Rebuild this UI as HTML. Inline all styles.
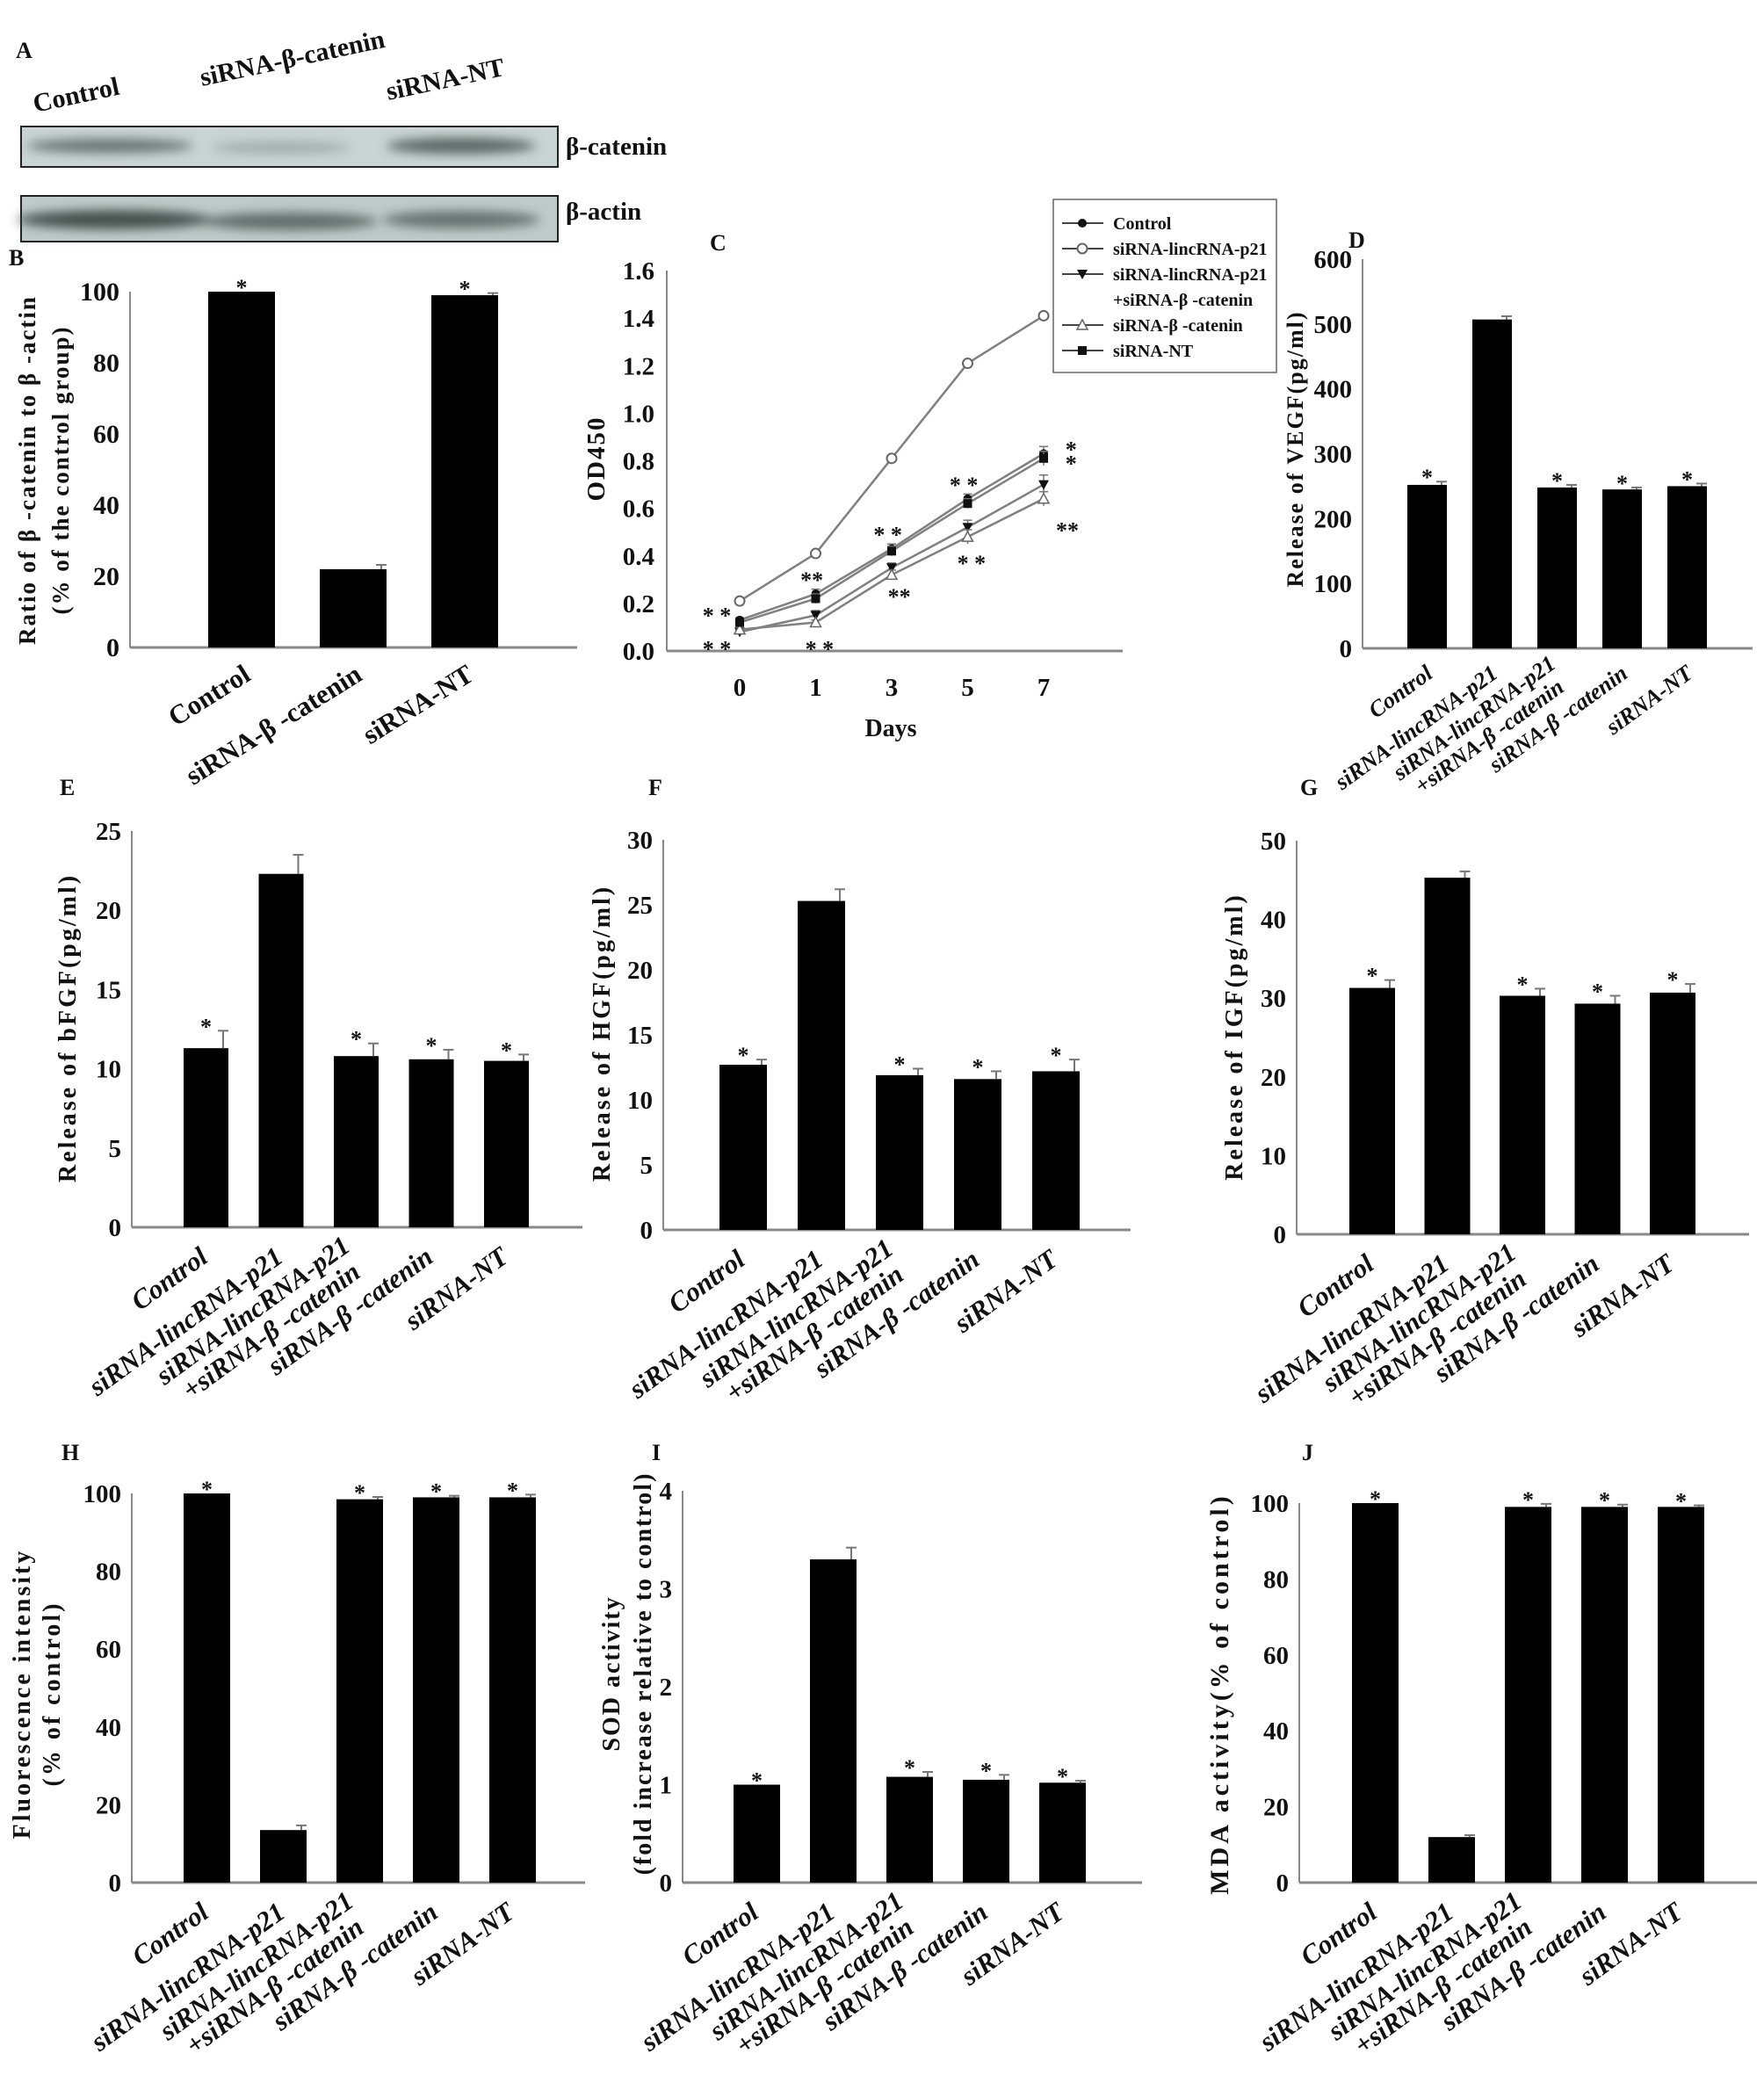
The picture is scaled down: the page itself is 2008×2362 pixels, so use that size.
<!DOCTYPE html>
<html><head><meta charset="utf-8"><style>
html,body{margin:0;padding:0;background:#fff}
svg{display:block}
text{font-family:"Liberation Serif",serif;font-weight:bold;fill:#111}
</style></head><body>
<svg id="fig" width="2008" height="2362" viewBox="0 0 2008 2362" xmlns="http://www.w3.org/2000/svg">
<defs><filter id="blur" x="-20%" y="-50%" width="140%" height="200%"><feGaussianBlur stdDeviation="6"/></filter></defs>
<g>
<text x="18" y="66" font-size="26">A</text>
<text x="40" y="128" font-size="30" transform="rotate(-12 40 128)">Control</text>
<text x="230" y="98" font-size="30" transform="rotate(-12 230 98)">siRNA-β-catenin</text>
<text x="442" y="114" font-size="30" transform="rotate(-12 442 114)">siRNA-NT</text>
<rect x="24" y="144" width="611" height="46" fill="#c9d4d4" stroke="#222" stroke-width="2"/>
<g filter="url(#blur)" fill="#46524f">
<ellipse cx="125" cy="166" rx="95" ry="8" opacity="0.75"/>
<ellipse cx="320" cy="168" rx="80" ry="6" opacity="0.35"/>
<ellipse cx="525" cy="166" rx="85" ry="9" opacity="0.85"/>
</g>
<rect x="24" y="223" width="611" height="52" fill="#bfcbcb" stroke="#222" stroke-width="2"/>
<g filter="url(#blur)" fill="#37433f">
<ellipse cx="130" cy="250" rx="110" ry="11" opacity="0.9"/>
<ellipse cx="330" cy="252" rx="100" ry="10" opacity="0.7"/>
<ellipse cx="525" cy="250" rx="90" ry="10" opacity="0.65"/>
</g>
<text x="644" y="176" font-size="29">β-catenin</text>
<text x="644" y="250" font-size="29">β-actin</text>
</g>
<g id="charts"></g>
</svg>
<script>
// ---------- DATA ----------
const bCats=[['Control'],['siRNA-β -catenin'],['siRNA-NT']];
const bVals=[100,22,99];
const bErr=[0,1.2,0.6];
const bStar=[1,0,1];
const bTicks=[0,20,40,60,80,100];

const longCats=[['Control'],['siRNA-lincRNA-p21'],['siRNA-lincRNA-p21','+siRNA-β -catenin'],['siRNA-β -catenin'],['siRNA-NT']];
const starPattern=[1,0,1,1,1];

const dVals=[252,507,248,245,250];
const dErr=[5,5,4,3,4];
const dTicks=[0,100,200,300,400,500,600];

const eVals=[11.3,22.3,10.8,10.6,10.5];
const eErr=[1.1,1.2,0.8,0.6,0.4];
const eTicks=[0,5,10,15,20,25];

const fVals=[12.7,25.3,11.9,11.6,12.2];
const fErr=[0.4,0.9,0.5,0.6,0.9];
const fTicks=[0,5,10,15,20,25,30];

const gVals=[31.3,45.3,30.3,29.3,30.7];
const gErr=[1.0,0.8,0.9,1.0,1.1];
const gTicks=[0,10,20,30,40,50];

const hVals=[100,13.5,98.5,99,99];
const hErr=[0,1.2,0.6,0.4,0.7];
const hTicks=[0,20,40,60,80,100];

const iVals=[1.0,3.3,1.08,1.05,1.02];
const iErr=[0,0.12,0.05,0.05,0.02];
const iTicks=[0,1,2,3,4];

const jVals=[100,12,99,99,99];
const jErr=[0,0.5,0.8,0.6,0.4];
const jTicks=[0,20,40,60,80,100];

// Panel C line chart
const cDays=['0','1','3','5','7'];
const cTicks=[0,0.2,0.4,0.6,0.8,1.0,1.2,1.4,1.6];
const cSeriesNames=['Control','siRNA-lincRNA-p21','siRNA-lincRNA-p21 +siRNA-β -catenin','siRNA-β -catenin','siRNA-NT'];
const cControl=[0.13,0.24,0.43,0.64,0.83];
const cLinc=[0.21,0.41,0.81,1.21,1.41];
const cCombo=[0.08,0.15,0.35,0.52,0.70];
const cBeta=[0.09,0.12,0.32,0.48,0.64];
const cNT=[0.12,0.22,0.42,0.62,0.81];
const cErrs=[[0.01,0.02,0.02,0.02,0.03],[0.01,0.01,0.01,0.01,0.01],[0.01,0.02,0.02,0.03,0.04],[0.01,0.01,0.02,0.03,0.03],[0.01,0.02,0.02,0.02,0.03]];

// ---------- DRAW ----------
const NS='http://www.w3.org/2000/svg';
const root=document.getElementById('charts');
function el(tag,attrs,parent){const e=document.createElementNS(NS,tag);for(const k in attrs)e.setAttribute(k,attrs[k]);(parent||root).appendChild(e);return e;}
function txt(str,attrs,parent){const t=el('text',attrs,parent);t.textContent=str;return t;}

function barChart(p){
  const g=el('g',{});
  
  
  const max=p.ticks[p.ticks.length-1];
  const y=v=>p.y0-(v/max)*(p.y0-p.yTop);
  const lx=txt(p.letter,{x:p.lx,y:p.ly,'font-size':26},g);
  
  
  const ya=el('line',{x1:p.ax,y1:p.y0,x2:p.ax,y2:p.yTop,stroke:'#888','stroke-width':2},g);
  
  
  const xa=el('line',{x1:p.ax,y1:p.y0,x2:p.xEnd,y2:p.y0,stroke:'#888','stroke-width':3},g);
  
  
  p.ticks.forEach(t=>{
    const tl=txt(String(t),{x:p.ax-12,y:y(t)+10,'font-size':p.tickSize||29,'text-anchor':'end'},g);
    
    
  });
  const tg=el('g',{transform:`translate(${p.tx},${p.ty}) rotate(-90)`},g);
  p.title.forEach((line,k)=>{
    const tt=txt(line,{x:0,y:k*p.titleGap,'font-size':p.titleSize||28,'text-anchor':'middle','letter-spacing':p.titleLs||3},tg);
    
    
  });
  p.vals.forEach((v,i)=>{
    const x0=p.bx+i*p.step, cx=x0+p.bw/2;
    const top=y(v);
    const r=el('rect',{x:x0,y:top,width:p.bw,height:p.y0-top,fill:'#000'},g);
    
    
    const et=y(v+p.err[i]);
    if(p.err[i]>0){
      el('line',{x1:cx+p.bw/2-6,y1:top,x2:cx+p.bw/2-6,y2:et,stroke:'#777','stroke-width':2},g);
      el('line',{x1:cx+p.bw/2-12,y1:et,x2:cx+p.bw/2,y2:et,stroke:'#777','stroke-width':2},g);
    }
    if(p.stars[i]){
      const s=txt('*',{x:cx,y:et+8-p.starOff,'font-size':26,'text-anchor':'middle'},g);
      
      
    }
    const ex=cx+(p.labOffX||4), ey=p.y0+(p.labOffY||38);
    const lg=el('g',{transform:`translate(${ex},${ey}) rotate(${p.rot})`},g);
    const n=p.cats[i].length, gap=p.lineGap||31;
    p.cats[i].forEach((line,k)=>{
      const cl=txt(line,{x:k?-8:0,y:k*gap-(n-1)*gap/2,'font-size':p.catSize||31,'text-anchor':'end','font-style':p.italic?'italic':'normal'},lg);
      
      
    });
  });
}

barChart({name:'panel-b-ratio-chart',letter:'B',lx:10,ly:302,ax:148,y0:737,yTop:332,xEnd:657,ticks:bTicks,vals:bVals,err:bErr,stars:bStar,cats:bCats,
  bx:237,step:127,bw:76,tx:40,ty:535,title:['Ratio of β -catenin to β -actin','(% of the control group)'],titleGap:38,titleSize:27,titleLs:2,rot:-32,italic:false,catSize:31,starOff:4,tickSize:30,labOffX:12,labOffY:36});
barChart({name:'panel-d-vegf-chart',letter:'D',lx:1535,ly:282,ax:1551,y0:738,yTop:295,xEnd:1995,ticks:dTicks,vals:dVals,err:dErr,stars:starPattern,cats:longCats,
  bx:1602,step:74,bw:45,tx:1483,ty:511,title:['Release of VEGF(pg/ml)'],titleGap:0,titleSize:26,titleLs:2,rot:-36,italic:true,catSize:26,lineGap:27,labOffX:8,labOffY:32,starOff:4});
barChart({name:'panel-e-bfgf-chart',letter:'E',lx:68,ly:905,ax:150,y0:1397,yTop:946,xEnd:663,ticks:eTicks,vals:eVals,err:eErr,stars:starPattern,cats:longCats,
  bx:209,step:85.5,bw:51,tx:86,ty:1170,title:['Release of bFGF(pg/ml)'],titleGap:0,rot:-36,italic:true,starOff:4});
barChart({name:'panel-f-hgf-chart',letter:'F',lx:738,ly:905,ax:755,y0:1400,yTop:956,xEnd:1287,ticks:fTicks,vals:fVals,err:fErr,stars:starPattern,cats:longCats,
  bx:819,step:89,bw:54,tx:694,ty:1176,title:['Release of HGF(pg/ml)'],titleGap:0,rot:-36,italic:true,starOff:4});
barChart({name:'panel-g-igf-chart',letter:'G',lx:1480,ly:905,ax:1476,y0:1405,yTop:957,xEnd:1991,ticks:gTicks,vals:gVals,err:gErr,stars:starPattern,cats:longCats,
  bx:1536,step:85.5,bw:52,tx:1414,ty:1180,title:['Release of IGF(pg/ml)'],titleGap:0,rot:-36,italic:true,starOff:4});
barChart({name:'panel-h-fluorescence-chart',letter:'H',lx:70,ly:1662,ax:150,y0:2143,yTop:1700,xEnd:666,ticks:hTicks,vals:hVals,err:hErr,stars:starPattern,cats:longCats,
  bx:209,step:87,bw:53,tx:34,ty:1928,title:['Fluorescence intensity','(% of control)'],titleGap:34,rot:-36,italic:true,starOff:4});
barChart({name:'panel-i-sod-chart',letter:'I',lx:742,ly:1662,ax:777,y0:2143,yTop:1697,xEnd:1300,ticks:iTicks,vals:iVals,err:iErr,stars:starPattern,cats:longCats,
  bx:835,step:87,bw:53,tx:705,ty:1905,title:['SOD activity','(fold increase relative to control)'],titleGap:36,titleLs:2,rot:-36,italic:true,starOff:4});
barChart({name:'panel-j-mda-chart',letter:'J',lx:1482,ly:1662,ax:1479,y0:2143,yTop:1711,xEnd:2000,ticks:jTicks,vals:jVals,err:jErr,stars:starPattern,cats:longCats,
  bx:1539,step:87,bw:53,tx:1398,ty:1928,title:['MDA activity(% of control)'],titleGap:0,titleSize:30,titleLs:4,rot:-36,italic:true,starOff:4});

// ---------- Panel C ----------
(function(){
  const g=el('g',{});
  
  
  const ax=759,y0=741,yTop=308,x0=842,step=86.5,xEnd=1278;
  const y=v=>y0-(v/1.6)*(y0-yTop);
  const x=i=>x0+i*step;
  const L=txt('C',{x:808,y:285,'font-size':26},g);
  
  
  const ya=el('line',{x1:ax,y1:y0,x2:ax,y2:yTop,stroke:'#888','stroke-width':2},g);
  
  
  const xa=el('line',{x1:ax,y1:y0,x2:xEnd,y2:y0,stroke:'#888','stroke-width':3},g);
  
  
  cTicks.forEach(t=>{
    const tl=txt(t.toFixed(1),{x:ax-14,y:y(t)+10,'font-size':29,'text-anchor':'end'},g);
    
    
  });
  cDays.forEach((d,i)=>{
    const tl=txt(d,{x:x(i),y:792,'font-size':29,'text-anchor':'middle'},g);
    
    
  });
  const xt=txt('Days',{x:1014,y:838,'font-size':28,'text-anchor':'middle'},g);
  
  
  const yt=txt('OD450',{x:0,y:0,'font-size':29,'text-anchor':'middle','letter-spacing':2,transform:'translate(688,522) rotate(-90)'},g);
  
  
  const series=[cControl,cLinc,cCombo,cBeta,cNT];
  const markers=['fcircle','ocircle','fdown','otri','fsquare'];
  function marker(type,cx,cy,parent){
    if(type==='fcircle')return el('circle',{cx,cy,r:5,fill:'#111'},parent);
    if(type==='ocircle')return el('circle',{cx,cy,r:5.5,fill:'#fff',stroke:'#666','stroke-width':2},parent);
    if(type==='fdown')return el('polygon',{points:`${cx-6},${cy-5} ${cx+6},${cy-5} ${cx},${cy+6}`,fill:'#111'},parent);
    if(type==='otri')return el('polygon',{points:`${cx-6},${cy+5} ${cx+6},${cy+5} ${cx},${cy-6}`,fill:'#fff',stroke:'#666','stroke-width':1.5},parent);
    return el('rect',{x:cx-5,y:cy-5,width:10,height:10,fill:'#111'},parent);
  }
  series.forEach((s,k)=>{
    const sg=el('g',{},g);
    
    
    const pts=s.map((v,i)=>x(i)+','+y(v)).join(' ');
    el('polyline',{points:pts,fill:'none',stroke:'#808080','stroke-width':2.5},sg);
    s.forEach((v,i)=>{
      const e=cErrs[k][i];
      el('line',{x1:x(i),y1:y(v+e),x2:x(i),y2:y(v-e),stroke:'#777','stroke-width':1.5},sg);
      el('line',{x1:x(i)-5,y1:y(v+e),x2:x(i)+5,y2:y(v+e),stroke:'#777','stroke-width':1.5},sg);
      const m=marker(markers[k],x(i),y(v),sg);
      
      
    });
  });
  const starSpots=[[-0.3,0.16,'* *'],[-0.3,0.02,'* *'],[-0.05,0.31,'**'],[0.05,0.02,'* *'],[-0.05,0.50,'* *'],[0.1,0.24,'**'],[-0.05,0.71,'* *'],[0.05,0.38,'* *'],[0.2,0.86,'*'],[0.2,0.80,'*'],[0.15,0.52,'**']];
  const starDay=[0,0,1,1,2,2,3,3,4,4,4];
  starSpots.forEach((s,n)=>{
    const st=txt(s[2],{x:x(starDay[n])+s[0]*86.5+(starDay[n]===4?14:0),y:y(s[1])+12,'font-size':26,'text-anchor':'middle'},g);
    
    
  });
  const lg=el('g',{},g);
  
  
  el('rect',{x:1199,y:227,width:254,height:197,fill:'#fff',stroke:'#666','stroke-width':1.5},lg);
  const rows=[254,283,312,370,399];
  const labels=[['Control'],['siRNA-lincRNA-p21'],['siRNA-lincRNA-p21','+siRNA-β -catenin'],['siRNA-β -catenin'],['siRNA-NT']];
  labels.forEach((lab,k)=>{
    const ry=rows[k];
    el('line',{x1:1209,y1:ry,x2:1256,y2:ry,stroke:'#444','stroke-width':2},lg);
    marker(markers[k],1232,ry,lg);
    lab.forEach((line,j)=>{
      const t=txt(line,{x:1267,y:ry+7+j*29,'font-size':20,'font-weight':'normal',fill:'#333'},lg);
      
      
    });
  });
})();
</script>
</body></html>
